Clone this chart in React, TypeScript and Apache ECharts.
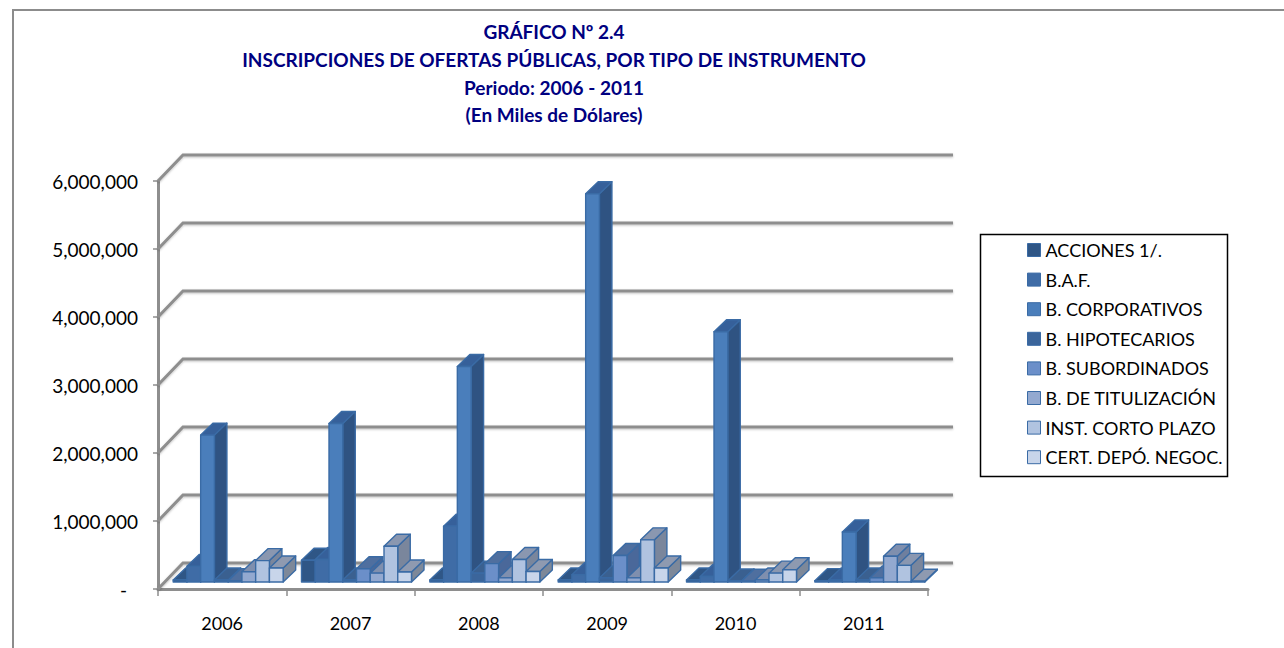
import React, { useEffect, useRef } from "react";
import * as echarts from "echarts";

const years = ["2006", "2007", "2008", "2009", "2010", "2011"];
const acciones = [30000, 320000, 30000, 30000, 30000, 20000];
const baf = [230000, 330000, 820000, 108000, 80000, 30000];
const corporativos = [2160000, 2330000, 3170000, 5710000, 3680000, 735000];
const hipotecarios = [30000, 30000, 130000, 60000, 15000, 30000];
const subordinados = [20000, 195000, 270000, 390000, 10000, 60000];
const titulizacion = [150000, 130000, 60000, 60000, 30000, 378000];
const cortoPlazo = [315000, 525000, 330000, 620000, 130000, 245000];
const certificados = [205000, 147000, 155000, 205000, 180000, 10000];
const gridValues = [0, 1000000, 2000000, 3000000, 4000000, 5000000, 6000000];

const seriesNames = ["ACCIONES 1/.", "B.A.F.", "B. CORPORATIVOS", "B. HIPOTECARIOS", "B. SUBORDINADOS", "B. DE TITULIZACIÓN", "INST. CORTO PLAZO", "CERT. DEPÓ. NEGOC."];
const seriesValues = [acciones, baf, corporativos, hipotecarios, subordinados, titulizacion, cortoPlazo, certificados];
const frontColors = ["#2f5686", "#3f6ca6", "#4a7ebb", "#3b659b", "#6b8fc9", "#93a9d0", "#b0c3e0", "#c8d5ea"];
const sideColors = ["#264a75", "#2f5382", "#2f5382", "#2d5079", "#4a689a", "#6f7f9e", "#7a869c", "#7d8899"];
const topColors = ["#2f5686", "#36609a", "#36609a", "#3a6090", "#4f6f9f", "#7f8fae", "#8a97b0", "#8f9ab0"];
const edge = "#3a6ba5";

const BAR_W = 13.75, DEPTH_X = 12.5, DEPTH_Y = 12, SHIFT_X = 6, LIFT_Y = 7;
const WALL_X = 25, WALL_Y = 26;

export default function App() {
  const ref = useRef<HTMLDivElement>(null);
  useEffect(() => {
    const chart = echarts.init(ref.current!, undefined, { renderer: "svg" });
    const barSeries = seriesNames.map((name, s) => ({
      name,
      type: "custom",
      coordinateSystem: "cartesian2d",
      z: 5 + s,
      itemStyle: { color: frontColors[s], borderColor: edge, borderWidth: 1 },
      data: years.map((y, i) => [i, seriesValues[s][i]]),
      encode: { x: 0, y: 1 },
      renderItem: (_: any, api: any) => {
        const base = api.coord([api.value(0), 0]);
        const top = api.coord([api.value(0), api.value(1)]);
        const x = base[0] + SHIFT_X + (s - 4) * BAR_W;
        const y0 = base[1] - LIFT_Y;
        const y1 = top[1] - LIFT_Y;
        const w = BAR_W;
        const common = { stroke: edge, lineWidth: 1.4, lineJoin: "round" };
        return {
          type: "group",
          children: [
            { type: "polygon", shape: { points: [[x + w, y0], [x + w + DEPTH_X, y0 - DEPTH_Y], [x + w + DEPTH_X, y1 - DEPTH_Y], [x + w, y1]] }, style: { fill: sideColors[s], ...common } },
            { type: "polygon", shape: { points: [[x, y1], [x + DEPTH_X, y1 - DEPTH_Y], [x + w + DEPTH_X, y1 - DEPTH_Y], [x + w, y1]] }, style: { fill: topColors[s], ...common } },
            { type: "rect", shape: { x, y: y1, width: w, height: y0 - y1 }, style: { fill: frontColors[s], ...common } },
          ],
        };
      },
    }));
    const wallSeries = {
      type: "custom",
      coordinateSystem: "cartesian2d",
      silent: true,
      z: 1,
      data: gridValues.map((v) => [0, v]),
      encode: { y: 1 },
      renderItem: (_: any, api: any) => {
        const value = api.value(1);
        const [, y] = api.coord([0, value]);
        const left = api.coord([0, value])[0] - api.size([1, 0])[0] / 2;
        const right = left + api.size([1, 0])[0] * years.length;
        return {
          type: "polyline",
          shape: { points: [[left, y], [left + WALL_X, y - WALL_Y], [right + WALL_X, y - WALL_Y]] },
          style: { fill: "none", stroke: "#8e8e8e", lineWidth: 3, shadowBlur: 2, shadowColor: "rgba(0,0,0,0.25)", shadowOffsetY: 1 },
        };
      },
    };
    chart.setOption({
      animation: false,
      backgroundColor: "#ffffff",
      textStyle: { fontFamily: "Lato" },
      title: {
        text: "GRÁFICO Nº 2.4\nINSCRIPCIONES DE OFERTAS PÚBLICAS, POR TIPO DE INSTRUMENTO\nPeriodo: 2006 - 2011\n(En Miles de Dólares)",
        left: 549,
        top: 13,
        textAlign: "center",
        textStyle: { fontFamily: "Lato", fontSize: 19, fontWeight: "bold", color: "#000080", lineHeight: 27.7, align: "center" },
      },
      grid: { left: 158, right: 356, top: 181, bottom: 59, containLabel: false },
      xAxis: {
        type: "category",
        data: years,
        boundaryGap: true,
        axisLine: { show: true, lineStyle: { color: "#8e8e8e", width: 3 } },
        axisTick: { show: true, alignWithLabel: false, length: 7, lineStyle: { color: "#8e8e8e", width: 1.5 } },
        axisLabel: { color: "#000000", fontSize: 18, margin: 25, fontFamily: "Lato" },
        splitLine: { show: false },
      },
      yAxis: {
        type: "value",
        min: 0,
        max: 6000000,
        interval: 1000000,
        axisLine: { show: true, lineStyle: { color: "#8e8e8e", width: 3 } },
        axisTick: { show: true, length: 5, lineStyle: { color: "#8e8e8e", width: 1.5 } },
        axisLabel: {
          color: "#000000",
          fontSize: 19,
          margin: 20,
          fontFamily: "Lato",
          formatter: (v: number) => (v === 0 ? "-" + "\u2007" : v.toLocaleString("en-US")),
        },
        splitLine: { show: false },
      },
      legend: {
        orient: "vertical",
        left: 1027,
        top: 240,
        padding: 0,
        itemGap: 9.6,
        itemWidth: 13,
        itemHeight: 13,
        icon: "rect",
        textStyle: { color: "#000000", fontSize: 18, fontFamily: "Lato", padding: [0, 0, 0, 0], height: 20, lineHeight: 20 },
        data: seriesNames.map((name, s) => ({ name, itemStyle: { color: frontColors[s], borderColor: edge, borderWidth: 1 } })),
      },
      graphic: [
        { type: "rect", silent: true, z: -1, shape: { x: 13, y: 10, width: 1290, height: 700 }, style: { fill: "none", stroke: "#8c8c8c", lineWidth: 2 } },
        { type: "rect", silent: true, z: -1, shape: { x: 980.5, y: 234.5, width: 247, height: 242 }, style: { fill: "#fff", stroke: "#000", lineWidth: 1.5 } },
      ],
      series: [wallSeries, ...barSeries],
    });
    return () => chart.dispose();
  }, []);
  return <div ref={ref} style={{ position: "fixed", left: 0, top: 0, width: 1284, height: 648 }} />;
}
